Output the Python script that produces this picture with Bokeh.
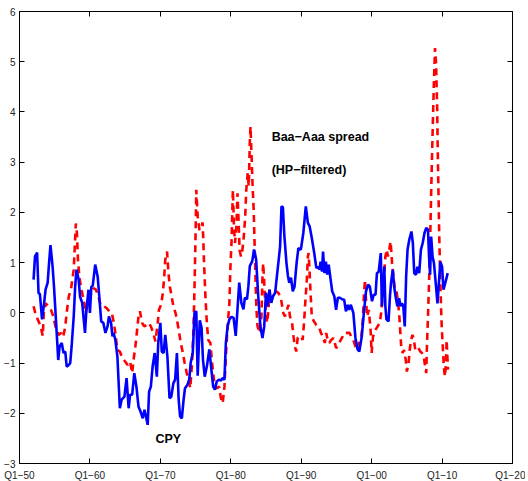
from bokeh.plotting import figure
from bokeh.models import Range1d, FixedTicker, LinearAxis, Label
from bokeh.embed import file_html
from bokeh.resources import INLINE

# ---- data ----
cpy_year = [1952.0, 1952.2, 1952.5, 1952.7, 1952.9, 1953.2, 1953.5, 1953.7, 1954.0, 1954.2, 1954.4, 1954.7,
            1954.9, 1955.2, 1955.5, 1955.7, 1956.0, 1956.25, 1956.5, 1956.7, 1957.0, 1957.2, 1957.4, 1957.7,
            1957.9, 1958.1, 1958.4, 1958.6, 1958.9, 1959.3, 1959.5, 1959.8, 1960.0, 1960.2, 1960.4, 1960.75,
            1961.1, 1961.4, 1961.6, 1961.9, 1962.2, 1962.5, 1962.7, 1963.0, 1963.2, 1963.35, 1963.6, 1963.9,
            1964.25, 1964.5, 1964.9, 1965.2, 1965.5, 1965.7, 1966.0, 1966.3, 1966.6, 1966.9, 1967.2, 1967.5,
            1967.75, 1968.2, 1968.4, 1968.65, 1968.9, 1969.2, 1969.5, 1969.7, 1970.0, 1970.2, 1970.45, 1970.7,
            1971.0, 1971.3, 1971.55, 1971.85, 1972.1, 1972.35, 1972.6, 1972.8, 1973.05, 1973.3, 1973.5, 1973.85,
            1974.1, 1974.3, 1974.6, 1974.85, 1975.1, 1975.3, 1975.6, 1975.85, 1976.05, 1976.3, 1976.6, 1976.95,
            1977.2, 1977.5, 1977.75, 1978.0, 1978.3, 1978.6, 1978.8, 1979.1, 1979.3, 1979.55, 1979.8, 1980.1,
            1980.4, 1980.7, 1980.95, 1981.2, 1981.5, 1981.8, 1982.0, 1982.3, 1982.5, 1982.7, 1983.05, 1983.3,
            1983.6, 1983.9, 1984.2, 1984.5, 1984.75, 1985.0, 1985.2, 1985.5, 1985.75, 1986.0, 1986.3, 1986.55,
            1986.85, 1987.0, 1987.2, 1987.4, 1987.6, 1987.9, 1988.1, 1988.3, 1988.55, 1988.8, 1989.05, 1989.35,
            1989.6, 1989.95, 1990.3, 1990.65, 1990.95, 1991.2, 1991.5, 1991.85, 1992.15, 1992.4, 1992.6, 1992.75,
            1992.95, 1993.1, 1993.3, 1993.5, 1993.7, 1993.9, 1994.15, 1994.4, 1994.7, 1994.95, 1995.2, 1995.5,
            1995.8, 1996.1, 1996.35, 1996.6, 1996.8, 1997.05, 1997.4, 1997.7, 1998.0, 1998.25, 1998.6, 1998.85,
            1999.2, 1999.5, 1999.75, 2000.05, 2000.3, 2000.55, 2000.75, 2001.0, 2001.3, 2001.45, 2001.65, 2001.8,
            2001.95, 2002.1, 2002.4, 2002.6, 2002.75, 2003.0, 2003.2, 2003.4, 2003.65, 2003.9, 2004.1, 2004.3,
            2004.5, 2004.7, 2004.9, 2005.1, 2005.35, 2005.65, 2005.85, 2006.05, 2006.3, 2006.5, 2006.75, 2007.0,
            2007.25, 2007.5, 2007.75, 2008.0, 2008.15, 2008.3, 2008.45, 2008.65, 2008.85, 2009.1, 2009.35, 2009.55,
            2009.75, 2010.0, 2010.2, 2010.5, 2010.8]
cpy_value = [0.66, 1.12, 1.20, 0.40, 0.37, -0.13, 0.20, 0.46, 0.60, 1.00, 1.35, 0.92,
             0.52, -0.20, -0.94, -0.67, -0.60, -0.80, -0.77, -1.07, -1.04, -1.00, -0.67, -0.07,
             0.52, 0.86, 0.66, 0.32, 0.20, -0.40, 0.06, 0.46, 0.00, 0.52, 0.54, 0.96,
             0.72, 0.20, -0.17, -0.20, -0.40, -0.27, -0.07, -0.20, -0.47, -0.40, -0.53, -0.87,
             -1.90, -1.73, -1.67, -1.30, -1.90, -1.63, -1.63, -1.20, -1.47, -1.87, -1.97, -2.10,
             -1.93, -2.23, -1.57, -1.47, -1.07, -0.80, -1.27, -0.60, -0.20, -0.77, -0.80, -0.44,
             -0.87, -1.70, -1.67, -1.40, -1.33, -0.80, -1.73, -2.06, -2.10, -1.73, -1.50, -1.43,
             -1.33, -1.00, -0.80, 0.00, 0.03, -1.25, -0.15, -0.30, -0.93, -1.27, -1.07, -0.73,
             -1.07, -1.47, -1.53, -1.37, -1.33, -1.35, -1.30, -1.33, -0.60, -0.27, -0.13, -0.08,
             -0.10, -0.46, 0.07, 0.60, 0.20, 0.07, 0.30, 0.27, 0.53, 0.93, 1.03, 1.26,
             1.06, 0.33, -0.27, -0.50, -0.27, 0.40, 0.13, 0.46, 0.20, 0.33, 0.40, 0.73,
             1.12, 1.32, 2.12, 2.10, 1.55, 1.00, 0.75, 0.60, 0.70, 0.43, 0.52, 1.00,
             1.29, 1.26, 1.59, 2.12, 1.79, 1.72, 1.49, 1.19, 0.89, 0.92, 0.86, 1.02,
             0.82, 1.22, 0.79, 1.02, 0.76, 0.96, 0.69, 0.43, 0.33, 0.06, 0.30, 0.30,
             0.27, 0.26, 0.03, 0.16, 0.06, 0.16, 0.00, -0.50, -0.73, -0.77, -0.47, -0.07,
             0.43, 0.56, 0.52, 0.23, 0.36, 0.36, 0.79, 0.82, 1.19, 0.13, 0.59, 0.92,
             0.13, -0.13, -0.17, 0.33, 0.59, 0.86, 0.52, 0.33, 0.13, 0.29, 0.13, 0.19,
             0.13, -0.27, 0.73, 1.26, 1.46, 1.62, 1.39, 0.79, 0.76, 0.92, 0.79, 1.26,
             1.39, 1.59, 1.69, 1.66, 1.12, 0.76, 1.52, 1.12, 0.99, 0.59, 0.19, 0.59,
             1.02, 0.92, 0.46, 0.62, 0.79]

spread_year = [1952.0, 1952.3, 1952.8, 1953.0, 1953.3, 1953.45, 1953.7, 1954.1, 1954.45, 1954.8, 1955.15, 1955.55,
               1955.9, 1956.2, 1956.5, 1956.7, 1957.0, 1957.3, 1957.7, 1957.85, 1958.0, 1958.15, 1958.3, 1958.5,
               1958.75, 1959.0, 1959.2, 1959.4, 1959.7, 1960.0, 1960.2, 1960.5, 1960.85, 1961.2, 1961.45, 1961.7,
               1962.0, 1962.4, 1962.75, 1963.1, 1963.35, 1963.55, 1963.9, 1964.25, 1964.6, 1965.0, 1965.35, 1965.7,
               1966.0, 1966.2, 1966.45, 1966.7, 1966.9, 1967.1, 1967.4, 1967.7, 1968.05, 1968.35, 1968.65, 1969.0,
               1969.3, 1969.6, 1969.8, 1970.1, 1970.35, 1970.55, 1970.7, 1970.95, 1971.15, 1971.35, 1971.6, 1971.85,
               1972.15, 1972.35, 1972.6, 1972.9, 1973.2, 1973.45, 1973.75, 1974.0, 1974.25, 1974.5, 1974.7, 1974.85,
               1974.95, 1975.05, 1975.1, 1975.3, 1975.55, 1975.8, 1976.0, 1976.1, 1976.2, 1976.4, 1976.6, 1976.8,
               1977.1, 1977.3, 1977.55, 1977.75, 1978.05, 1978.35, 1978.6, 1978.85, 1979.1, 1979.3, 1979.55, 1979.8,
               1979.95, 1980.1, 1980.2, 1980.3, 1980.45, 1980.6, 1980.8, 1980.95, 1981.1, 1981.25, 1981.45, 1981.65,
               1981.85, 1982.05, 1982.2, 1982.4, 1982.55, 1982.7, 1982.8, 1982.95, 1983.1, 1983.25, 1983.35, 1983.45,
               1983.55, 1983.65, 1983.8, 1984.1, 1984.35, 1984.5, 1984.6, 1984.75, 1984.95, 1985.15, 1985.35, 1985.5,
               1985.7, 1986.1, 1986.45, 1986.8, 1987.15, 1987.45, 1987.7, 1988.2, 1988.4, 1988.7, 1988.9, 1989.1,
               1989.3, 1989.5, 1989.75, 1989.95, 1990.2, 1990.4, 1990.6, 1990.8, 1990.95, 1991.05, 1991.2, 1991.35,
               1991.5, 1991.8, 1992.15, 1992.5, 1992.8, 1993.05, 1993.35, 1993.55, 1993.8, 1994.0, 1994.25, 1994.6,
               1994.95, 1995.2, 1995.5, 1995.9, 1996.15, 1996.5, 1996.85, 1997.1, 1997.4, 1997.7, 1998.0, 1998.25,
               1998.55, 1998.75, 1998.9, 1999.05, 1999.2, 1999.35, 1999.6, 1999.85, 2000.0, 2000.2, 2000.55, 2000.85,
               2001.15, 2001.35, 2001.55, 2001.75, 2001.95, 2002.15, 2002.3, 2002.5, 2002.7, 2002.9, 2003.1, 2003.3,
               2003.5, 2003.7, 2003.9, 2004.05, 2004.2, 2004.4, 2004.6, 2004.85, 2005.0, 2005.25, 2005.4, 2005.6,
               2005.8, 2006.0, 2006.2, 2006.45, 2006.65, 2006.9, 2007.15, 2007.4, 2007.6, 2007.75, 2007.85, 2008.0,
               2008.15, 2008.3, 2008.42, 2008.55, 2008.7, 2008.85, 2009.0, 2009.15, 2009.3, 2009.4, 2009.5, 2009.6,
               2009.75, 2009.85, 2009.95, 2010.1, 2010.25, 2010.4, 2010.55, 2010.65, 2010.75, 2010.85]
spread_value = [0.13, -0.04, -0.20, -0.27, -0.46, 0.00, 0.19, 0.13, 0.07, -0.07, -0.30, -0.44,
                -0.40, -0.48, -0.27, 0.00, 0.33, 0.46, 0.86, 1.32, 1.78, 1.59, 1.06, 0.72,
                0.49, 0.33, 0.19, 0.00, 0.19, 0.29, 0.39, 0.49, 0.46, 0.33, 0.19, 0.13,
                0.13, 0.09, 0.03, 0.00, -0.17, -0.34, -0.74, -0.77, -0.90, -0.97, -1.04, -0.97,
                -1.20, -0.93, -0.67, -0.34, -0.07, 0.03, -0.20, -0.27, -0.24, -0.20, -0.27, -0.40,
                -0.57, -0.24, 0.06, 0.16, 0.39, 0.72, 1.06, 1.22, 0.79, 0.52, 0.33, 0.13,
                0.00, -0.13, -0.34, -0.60, -0.80, -1.00, -1.20, -1.33, -1.50, -1.00, -0.34, 0.52,
                1.19, 1.98, 2.45, 1.92, 1.65, 1.69, 1.80, 1.45, 0.99, 0.33, -0.20, -0.54,
                -0.60, -0.93, -1.27, -1.47, -1.50, -1.47, -1.70, -1.80, -1.47, -0.87, -0.27, 0.19,
                0.92, 1.39, 1.92, 2.45, 1.72, 1.39, 1.72, 2.38, 1.85, 1.25, 1.12, 1.25,
                1.52, 1.92, 2.45, 2.78, 2.52, 3.38, 3.71, 3.11, 2.52, 2.05, 1.52, 1.05,
                0.46, 0.06, -0.27, -0.40, -0.07, 0.72, 0.99, 0.59, 0.06, -0.20, 0.06, 0.46,
                0.26, 0.33, 0.43, 0.39, 0.26, 0.00, -0.07, 0.16, -0.07, -0.20, -0.47, -0.67,
                -0.77, -0.50, -0.47, -0.46, -0.54, -0.20, 0.26, 0.66, 1.12, 1.19, 0.79, 0.33,
                -0.07, -0.17, -0.24, -0.27, -0.40, -0.47, -0.60, -0.40, -0.57, -0.60, -0.54, -0.50,
                -0.70, -0.67, -0.57, -0.47, -0.40, -0.40, -0.40, -0.47, -0.54, -0.67, -0.74, -0.54,
                -0.47, -0.13, 0.33, 0.66, 0.26, -0.07, 0.06, -0.34, -0.80, -0.47, -0.34, -0.27,
                -0.20, 0.00, 0.33, 0.72, 1.12, 1.26, 1.12, 1.26, 1.42, 0.99, 0.72, 0.46,
                0.46, 0.26, 0.00, -0.34, -0.67, -0.80, -0.74, -0.94, -1.17, -1.00, -0.74, -0.54,
                -0.44, -0.54, -0.74, -0.74, -0.70, -0.77, -0.80, -0.87, -1.07, -1.20, -0.67, -0.07,
                0.59, 1.39, 2.19, 2.98, 3.84, 4.63, 5.27, 4.96, 4.10, 3.11, 2.31, 1.52,
                0.66, 0.13, -0.27, -0.67, -1.07, -1.27, -1.00, -0.54, -0.87, -1.13]

x_ticks = [1950, 1960, 1970, 1980, 1990, 2000, 2010, 2020]
x_tick_labels = ["Q1\u221250", "Q1\u221260", "Q1\u221270", "Q1\u221280",
                 "Q1\u221290", "Q1\u221200", "Q1\u221210", "Q1\u221220"]
y_ticks = [-3, -2, -1, 0, 1, 2, 3, 4, 5, 6]

FONT = "Liberation Sans"

p = figure(frame_width=493, frame_height=452,
           x_range=Range1d(1950, 2020), y_range=Range1d(-3, 6),
           output_backend="svg", toolbar_location=None,
           min_border_left=19, min_border_right=13, min_border_top=11, min_border_bottom=14,
           background_fill_color="white", border_fill_color="white")
p.grid.visible = False
p.outline_line_color = "black"
p.outline_line_width = 1

def style_axis(ax, labels=True):
    ax.axis_line_color = "black"
    ax.axis_line_width = 1
    ax.major_tick_in = 5
    ax.major_tick_out = 0
    ax.minor_tick_in = 0
    ax.minor_tick_out = 0
    ax.major_tick_line_color = "black"
    ax.major_label_text_font = FONT
    ax.major_label_text_font_size = "10px"
    ax.major_label_text_color = "#222222"
    if not labels:
        ax.major_label_text_font_size = "1px"
        ax.major_label_text_color = None
        ax.major_label_standoff = 0

xax = p.xaxis[0]
xax.ticker = FixedTicker(ticks=x_ticks)
xax.major_label_overrides = {t: l for t, l in zip(x_ticks, x_tick_labels)}
style_axis(xax)
xax.major_label_standoff = 6

yax = p.yaxis[0]
yax.ticker = FixedTicker(ticks=y_ticks)
yax.major_label_overrides = {t: (str(t).replace("-", "\u2212")) for t in y_ticks}
style_axis(yax)
yax.major_label_standoff = 4

top = LinearAxis(ticker=FixedTicker(ticks=x_ticks))
style_axis(top, labels=False)
p.add_layout(top, "above")
right = LinearAxis(ticker=FixedTicker(ticks=y_ticks))
style_axis(right, labels=False)
p.add_layout(right, "right")

p.line(spread_year, spread_value, line_color="#ff0000", line_width=2.6, line_dash="7 5")
p.line(cpy_year, cpy_value, line_color="#0000ff", line_width=2.6)

for txt, x, y in [("Baa\u2212Aaa spread", 1985.8, 3.51),
                  ("(HP\u2212filtered)", 1985.8, 2.85),
                  ("CPY", 1969.3, -2.51)]:
    p.add_layout(Label(x=x, y=y, text=txt, text_font=FONT, text_font_size="12.5px",
                       text_font_style="bold", text_color="black", text_baseline="middle",
                       text_align="left"))

open("out.html", "w").write(file_html(p, INLINE))
